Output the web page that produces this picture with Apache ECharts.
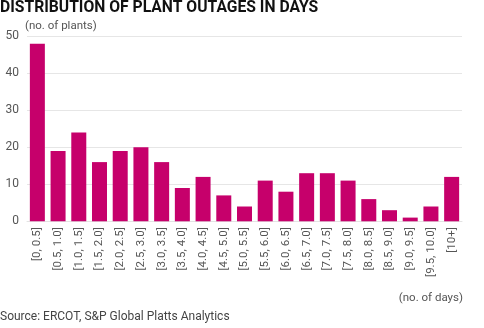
<!DOCTYPE html>
<html><head><meta charset="utf-8">
<script src="https://cdn.jsdelivr.net/npm/echarts@6/dist/echarts.min.js"></script>
<style>html,body{margin:0;padding:0;background:#fff;}#c{width:484px;height:328px;}</style>
</head><body><div id="c"></div>
<script>
const categories = ["[0, 0.5]","[0.5, 1.0]","[1.0, 1.5]","[1.5, 2.0]","[2.0, 2.5]","[2.5, 3.0]","[3.0, 3.5]","[3.5, 4.0]","[4.0, 4.5]","[4.5, 5.0]","[5.0, 5.5]","[5.5, 6.0]","[6.0, 6.5]","[6.5, 7.0]","[7.0, 7.5]","[7.5, 8.0]","[8.0, 8.5]","[8.5, 9.0]","[9.0, 9.5]","[9.5, 10.0]","[10+]"];
const plants = [48,19,24,16,19,20,16,9,12,7,4,11,8,13,13,11,6,3,1,4,12];
const yTicks = [0,10,20,30,40,50];

const chart = echarts.init(document.getElementById('c'), null, {renderer:'canvas'});
const font = 'Roboto, "Open Sans", sans-serif';
chart.setOption({
  animation:false,
  title:[
    {text:'DISTRIBUTION OF PLANT OUTAGES IN DAYS', left:0, top:0, padding:0,
     textStyle:{fontFamily:'Roboto, sans-serif', fontWeight:'bold', fontSize:15.7, color:'#111'}},
    {text:'(no. of plants)', left:25, top:20.5, padding:0, textStyle:{fontFamily:font, fontWeight:'normal', fontSize:11.5, color:'#555'}},
    {text:'(no. of days)', right:21, top:292, padding:0, textStyle:{fontFamily:font, fontWeight:'normal', fontSize:11.5, color:'#555'}},
    {text:'Source: ERCOT, S&P Global Platts Analytics', left:0, top:311, padding:0, textStyle:{fontFamily:font, fontWeight:'normal', fontSize:12, color:'#444'}}
  ],
  grid:{left:27, right:22, top:36.3, bottom:328-221.3, containLabel:false},
  xAxis:{type:'category', data:categories,
    axisLine:{lineStyle:{color:'#e3e3e3'}}, axisTick:{show:false},
    axisLabel:{rotate:90, interval:0, fontFamily:font, fontSize:11.5, color:'#555', margin:6}},
  yAxis:{type:'value', min:yTicks[0], max:yTicks[yTicks.length-1], interval:10,
    axisLine:{show:false}, axisTick:{show:false},
    axisLabel:{fontFamily:font, fontSize:12, color:'#555', margin:8},
    splitLine:{lineStyle:{color:'#e6e6e6'}}},
  series:[{type:'bar', data:plants, barWidth:15, itemStyle:{color:'#c6006b'}}]
});
</script></body></html>
